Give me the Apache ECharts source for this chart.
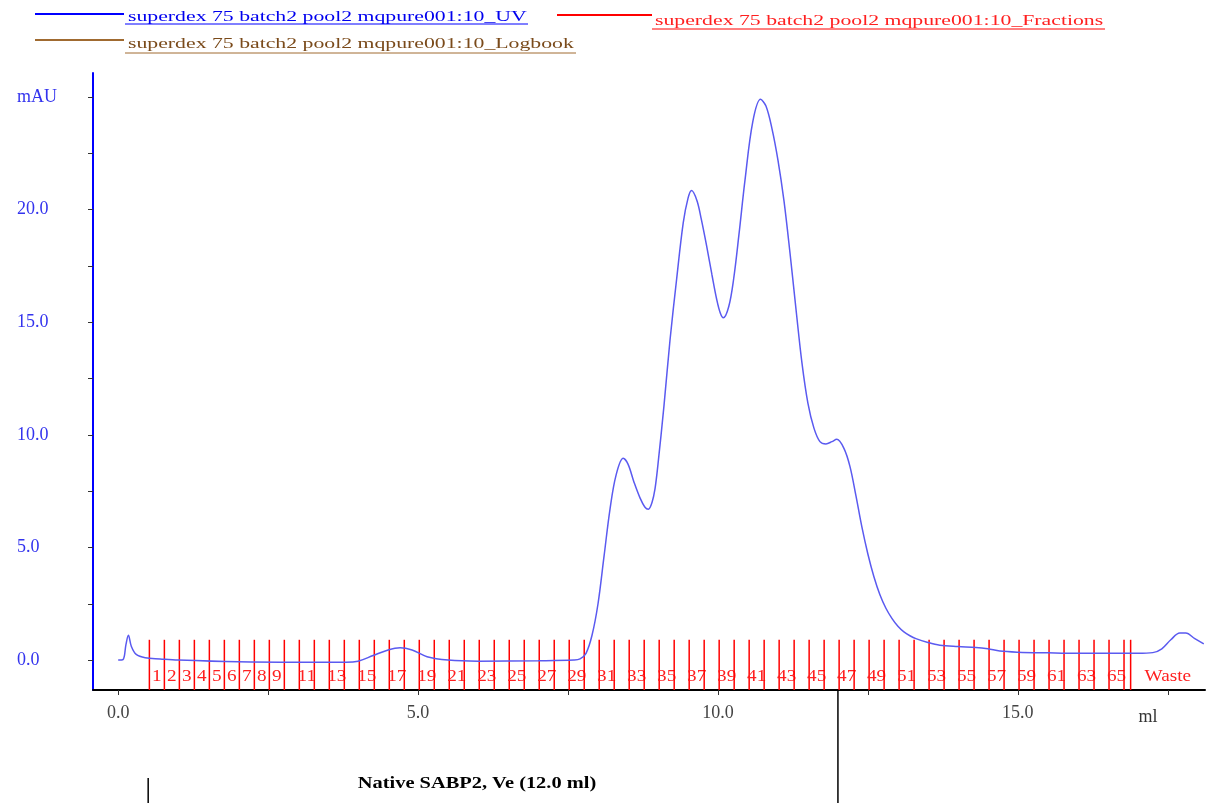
<!DOCTYPE html>
<html>
<head>
<meta charset="utf-8">
<script src="https://cdn.jsdelivr.net/npm/echarts@6/dist/echarts.min.js"></script>
<style>
html,body{margin:0;padding:0;background:#fff;}
#chart{width:1207px;height:803px;}
</style>
</head>
<body>
<div id="chart"></div>
<script>
// ---- DATA ----
const uvMl = [0.0, 0.08, 0.13, 0.17, 0.22, 0.3, 0.45, 0.7, 1.0, 2.0, 3.0, 3.8, 4.0, 4.25, 4.5, 4.7, 4.9, 5.15, 5.5, 6.0, 7.0, 7.6, 7.7, 7.8, 7.9, 8.0, 8.1, 8.2, 8.3, 8.42, 8.5, 8.6, 8.7, 8.78, 8.84, 8.9, 8.95, 9.0, 9.1, 9.2, 9.31, 9.42, 9.5, 9.56, 9.65, 9.72, 9.81, 9.9, 9.98, 10.04, 10.09, 10.18, 10.26, 10.35, 10.45, 10.58, 10.71, 10.8, 10.9, 11.0, 11.1, 11.2, 11.3, 11.4, 11.5, 11.6, 11.7, 11.8, 11.9, 11.98, 12.1, 12.2, 12.3, 12.4, 12.5, 12.6, 12.7, 12.8, 12.9, 13.0, 13.1, 13.2, 13.3, 13.5, 13.7, 14.0, 14.3, 14.5, 14.7, 15.0, 15.5, 16.0, 16.5, 17.0, 17.25, 17.4, 17.55, 17.7, 17.8, 17.95, 18.1];
const uvMau = [0.0, 0.02, 0.7, 1.1, 0.6, 0.25, 0.1, 0.05, 0.0, -0.08, -0.1, -0.1, -0.05, 0.2, 0.45, 0.55, 0.45, 0.15, 0.0, -0.05, -0.03, 0.0, 0.05, 0.3, 1.1, 2.5, 4.6, 6.7, 8.2, 8.96, 8.7, 7.9, 7.2, 6.8, 6.7, 7.0, 7.6, 8.7, 11.3, 14.2, 16.9, 19.4, 20.5, 20.85, 20.4, 19.6, 18.4, 17.1, 16.0, 15.4, 15.2, 15.7, 16.9, 18.9, 21.3, 23.9, 24.9, 24.6, 23.6, 22.2, 20.4, 18.1, 15.6, 13.2, 11.4, 10.3, 9.7, 9.6, 9.7, 9.8, 9.4, 8.6, 7.3, 5.9, 4.7, 3.7, 2.9, 2.3, 1.85, 1.5, 1.25, 1.08, 0.95, 0.78, 0.66, 0.6, 0.56, 0.5, 0.4, 0.35, 0.32, 0.3, 0.3, 0.3, 0.33, 0.5, 0.9, 1.2, 1.2, 0.95, 0.72];

const fractionStarts = [0.52, 0.77, 1.02, 1.27, 1.52, 1.77, 2.02, 2.27, 2.52, 2.77, 3.02, 3.27, 3.52, 3.77, 4.02, 4.27, 4.52, 4.77, 5.02, 5.27, 5.52, 5.77, 6.02, 6.27, 6.52, 6.77, 7.02, 7.27, 7.52, 7.77, 8.02, 8.27, 8.52, 8.77, 9.02, 9.27, 9.52, 9.77, 10.02, 10.27, 10.52, 10.77, 11.02, 11.27, 11.52, 11.77, 12.02, 12.27, 12.52, 12.77, 13.02, 13.27, 13.52, 13.77, 14.02, 14.27, 14.52, 14.77, 15.02, 15.27, 15.52, 15.77, 16.02, 16.27, 16.52, 16.77, 16.88];
const fractionNames = ['1','2','3','4','5','6','7','8','9','10','11','12','13','14','15','16','17','18','19','20','21','22','23','24','25','26','27','28','29','30','31','32','33','34','35','36','37','38','39','40','41','42','43','44','45','46','47','48','49','50','51','52','53','54','55','56','57','58','59','60','61','62','63','64','65','66','Waste'];

const xTickValues = [0, 2.5, 5, 7.5, 10, 12.5, 15, 17.5];
const xLabelValues = [0, 5, 10, 15];
const yTickValues = [0, 2.5, 5, 7.5, 10, 12.5, 15, 17.5, 20, 22.5, 25];
const yLabelValues = [0, 5, 10, 15, 20, 25];

const legendNames = ['superdex 75 batch2 pool2 mqpure001:10_UV', 'superdex 75 batch2 pool2 mqpure001:10_Fractions', 'superdex 75 batch2 pool2 mqpure001:10_Logbook'];
const markerVe = 12.0;
const markerStart = 0.5;
const unitLabelMl = 17.17;
const annotationText = 'Native SABP2, Ve (12.0 ml)';

// ---- CHART ----
const X_MIN = -0.42, X_MAX = 18.12, Y_MIN = -1.33, Y_MAX = 26.07;
const FRACTION_TOP = 0.9;
const SERIF = '"Liberation Serif", "Times New Roman", serif';

const uvData = uvMl.map((x, i) => [x, uvMau[i]]);
const fracData = fractionStarts.map((s, i) => [s, i + 1 < fractionStarts.length ? fractionStarts[i + 1] : X_MAX]);

function showLabel(i) {
  const n = fractionNames[i];
  if (n === 'Waste') return true;
  const v = parseInt(n, 10);
  return v <= 9 || v % 2 === 1;
}

const chart = echarts.init(document.getElementById('chart'), null, {renderer: 'canvas'});

const option = {
  backgroundColor: '#ffffff',
  animation: false,
  grid: {left: 93, right: 2, top: 73, bottom: 113, containLabel: false},
  xAxis: {
    type: 'value', min: X_MIN, max: X_MAX,
    axisLine: {show: true, onZero: false, lineStyle: {color: '#000000', width: 2}},
    axisTick: {show: true, customValues: xTickValues, length: 5, lineStyle: {color: '#333', width: 1}},
    axisLabel: {customValues: xLabelValues, formatter: v => v.toFixed(1), color: '#444', fontFamily: SERIF, fontSize: 18, margin: 14},
    splitLine: {show: false}
  },
  yAxis: {
    type: 'value', min: Y_MIN, max: Y_MAX,
    axisLine: {show: true, onZero: false, lineStyle: {color: '#0000ff', width: 2}},
    axisTick: {show: true, customValues: yTickValues, length: 5, lineStyle: {color: '#333', width: 1}},
    axisLabel: {customValues: yLabelValues, formatter: v => (v === 25 ? 'mAU' : v.toFixed(1)), color: '#3333ee', fontFamily: SERIF, fontSize: 18, align: 'left', margin: 76},
    splitLine: {show: false}
  },
  series: [
    {
      type: 'custom',
      name: legendNames[1],
      data: fracData,
      z: 2,
      clip: false,
      renderItem: function (params, api) {
        const i = params.dataIndex;
        const s = api.value(0), e = api.value(1);
        const p0 = api.coord([s, Y_MIN]);
        const p1 = api.coord([s, FRACTION_TOP]);
        const c = api.coord([(s + e) / 2, Y_MIN]);
        const children = [
          {type: 'line', shape: {x1: p0[0], y1: p0[1], x2: p1[0], y2: p1[1]}, style: {stroke: '#ff0000', lineWidth: 1.5}}
        ];
        if (showLabel(i)) {
          children.push({type: 'text', x: c[0], y: p0[1] - 13, scaleX: 1.2,
            style: {text: fractionNames[i], fill: '#ff2020', font: '16px ' + SERIF, align: 'center', verticalAlign: 'middle'}});
        }
        return {type: 'group', children: children};
      }
    },
    {
      type: 'line',
      name: legendNames[0],
      data: uvData,
      z: 3,
      smooth: 0.35,
      showSymbol: false,
      symbol: 'none',
      lineStyle: {color: '#5a5af0', width: 1.5}
    }
  ],
  graphic: []
};
chart.setOption(option);

function legendGraphics() {
  const els = [];
  const items = [
    {lx1: 35, lx2: 124, ly: 14, tx: 128, ty: 17, ux1: 125, ux2: 528, uy: 24, line: '#0000ff', text: '#0000ee', name: legendNames[0]},
    {lx1: 557, lx2: 652, ly: 15, tx: 655, ty: 21, ux1: 652, ux2: 1105, uy: 29, line: '#ff0000', text: '#ff2020', name: legendNames[1]},
    {lx1: 35, lx2: 124, ly: 40, tx: 128, ty: 44, ux1: 125, ux2: 576, uy: 53, line: '#a06a30', text: '#7a4a1a', name: legendNames[2]}
  ];
  items.forEach(it => {
    els.push({type: 'line', shape: {x1: it.lx1, y1: it.ly, x2: it.lx2, y2: it.ly}, style: {stroke: it.line, lineWidth: 2}});
    els.push({type: 'text', x: it.tx, y: it.ty, scaleX: 1.45, style: {text: it.name, fill: it.text, font: '15px ' + SERIF, verticalAlign: 'middle'}});
    els.push({type: 'line', shape: {x1: it.ux1, y1: it.uy, x2: it.ux2, y2: it.uy}, style: {stroke: it.line, lineWidth: 1}});
  });
  return els;
}

const pVe = chart.convertToPixel({gridIndex: 0}, [markerVe, Y_MIN]);
const pStart = chart.convertToPixel({gridIndex: 0}, [markerStart, Y_MIN]);
const pUnit = chart.convertToPixel({gridIndex: 0}, [unitLabelMl, Y_MIN]);

const extra = legendGraphics().concat([
  {type: 'line', shape: {x1: pVe[0], y1: pVe[1], x2: pVe[0], y2: 803}, style: {stroke: '#000', lineWidth: 1.5}},
  {type: 'line', shape: {x1: pStart[0], y1: 778, x2: pStart[0], y2: 803}, style: {stroke: '#000', lineWidth: 1.5}},
  {type: 'text', x: 477, y: 784, scaleX: 1.2, style: {text: annotationText, fill: '#000', font: 'bold 17px ' + SERIF, align: 'center', verticalAlign: 'middle'}},
  {type: 'text', x: pUnit[0], y: pUnit[1] + 27, style: {text: 'ml', fill: '#333', font: '18px ' + SERIF, align: 'center', verticalAlign: 'middle'}}
]);
chart.setOption({graphic: extra});
</script>
</body>
</html>
